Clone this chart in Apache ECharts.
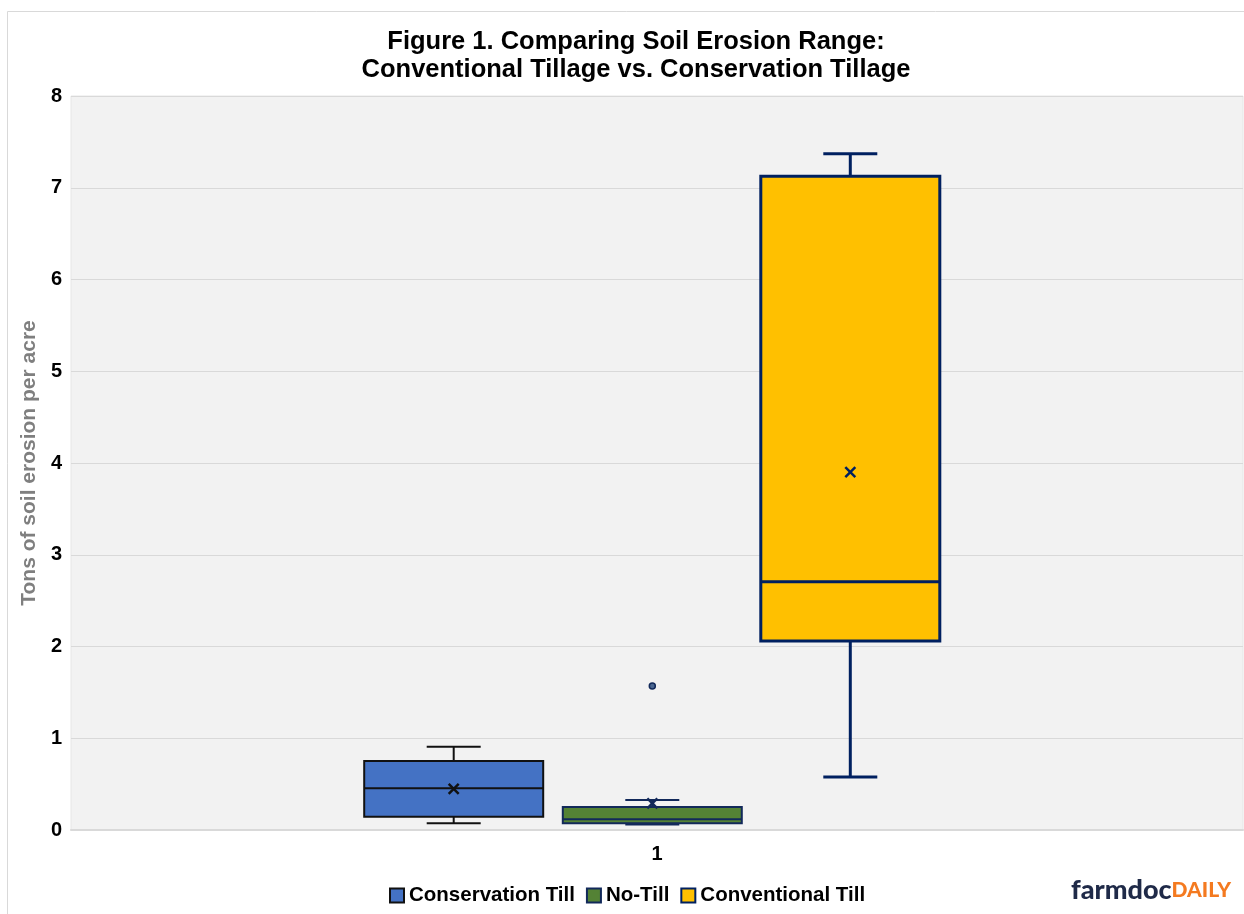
<!DOCTYPE html>
<html>
<head>
<meta charset="utf-8">
<script src="https://cdn.jsdelivr.net/npm/echarts@6/dist/echarts.min.js"></script>
<style>
html,body{margin:0;padding:0;background:#fff;}
#chart{width:1244px;height:914px;}
</style>
</head>
<body>
<div id="chart"></div>
<script>
// ---- data ----
const categories = ['1'];
const seriesNames = ['Conservation Till', 'No-Till', 'Conventional Till'];
// [min, Q1, median, Q3, max]
const conservationTill = [0.073, 0.145, 0.454, 0.752, 0.908];
const conservationMean = 0.447;
const noTill = [0.06, 0.073, 0.117, 0.25, 0.327];
const noTillMean = 0.29;
const noTillOutliers = [1.57];
const conventionalTill = [0.578, 2.06, 2.706, 7.125, 7.37];
const conventionalMean = 3.90;
const yMin = 0, yMax = 8, yInterval = 1;

// ---- layout / style ----
const BAND = 1172;
const OFFSETS = [-203.3 / BAND, -4.7 / BAND, 193.3 / BAND];
const BOX_W = 179 / BAND;
const CAP_W = 54 / BAND;
const STYLES = [
  { fill: '#4472C4', stroke: '#111111', lw: 2, mark: '#111111' },
  { fill: '#548235', stroke: '#12295a', lw: 2, mark: '#12295a' },
  { fill: '#FFC000', stroke: '#002060', lw: 3, mark: '#002060' }
];

function makeRender(idx) {
  const st = STYLES[idx];
  return function (params, api) {
    const band = api.size([1, 0])[0];
    const cx = api.coord([api.value(0), 0])[0] + OFFSETS[idx] * band;
    const w = BOX_W * band, cap = CAP_W * band;
    const Y = v => api.coord([0, v])[1];
    const mn = Y(api.value(1)), q1 = Y(api.value(2)), md = Y(api.value(3)),
          q3 = Y(api.value(4)), mx = Y(api.value(5)), mean = Y(api.value(6));
    const ls = { stroke: st.stroke, lineWidth: st.lw, fill: null };
    const s = 5;
    return {
      type: 'group',
      children: [
        { type: 'line', shape: { x1: cx, y1: q3, x2: cx, y2: mx }, style: ls },
        { type: 'line', shape: { x1: cx, y1: q1, x2: cx, y2: mn }, style: ls },
        { type: 'line', shape: { x1: cx - cap / 2, y1: mx, x2: cx + cap / 2, y2: mx }, style: ls },
        { type: 'line', shape: { x1: cx - cap / 2, y1: mn, x2: cx + cap / 2, y2: mn }, style: ls },
        { type: 'rect', shape: { x: cx - w / 2, y: q3, width: w, height: q1 - q3 },
          style: { fill: st.fill, stroke: st.stroke, lineWidth: st.lw } },
        { type: 'line', shape: { x1: cx - w / 2, y1: md, x2: cx + w / 2, y2: md }, style: ls },
        { type: 'line', shape: { x1: cx - s, y1: mean - s, x2: cx + s, y2: mean + s },
          style: { stroke: st.mark, lineWidth: 2.5 } },
        { type: 'line', shape: { x1: cx - s, y1: mean + s, x2: cx + s, y2: mean - s },
          style: { stroke: st.mark, lineWidth: 2.5 } }
      ]
    };
  };
}

function renderOutlier(params, api) {
  const band = api.size([1, 0])[0];
  const cx = api.coord([api.value(0), 0])[0] + OFFSETS[1] * band;
  const cy = api.coord([0, api.value(1)])[1];
  return { type: 'circle', shape: { cx: cx, cy: cy, r: 3 },
    style: { fill: '#4a6690', stroke: '#12295a', lineWidth: 1.5 } };
}

const boxData = [
  [[0].concat(conservationTill, [conservationMean])],
  [[0].concat(noTill, [noTillMean])],
  [[0].concat(conventionalTill, [conventionalMean])]
];

const FONT = 'Liberation Sans, Arial, sans-serif';
const chart = echarts.init(document.getElementById('chart'));
chart.setOption({
  animation: false,
  backgroundColor: '#ffffff',
  textStyle: { fontFamily: FONT },
  title: {
    text: 'Figure 1. Comparing Soil Erosion Range:\nConventional Tillage vs. Conservation Tillage',
    left: 631, top: 23, textAlign: 'center',
    textStyle: { fontSize: 25.5, fontWeight: 'bold', color: '#000', lineHeight: 28, fontFamily: FONT }
  },
  legend: {
    data: seriesNames,
    left: 384, top: 880,
    icon: 'rect', itemWidth: 14, itemHeight: 14, itemGap: 11,
    textStyle: { fontSize: 20.5, fontWeight: 'bold', color: '#000', fontFamily: FONT }
  },
  grid: {
    left: 71, right: 1, top: 96, bottom: 84,
    show: true, backgroundColor: '#f2f2f2', borderColor: '#e6e6e6', borderWidth: 1
  },
  xAxis: {
    type: 'category', data: categories,
    axisLine: { lineStyle: { color: '#d9d9d9', width: 2 } },
    axisTick: { show: false },
    axisLabel: { fontSize: 20, fontWeight: 'bold', color: '#000', margin: 14, fontFamily: FONT },
    splitLine: { show: false }
  },
  yAxis: {
    type: 'value', min: yMin, max: yMax, interval: yInterval,
    name: 'Tons of soil erosion per acre', nameLocation: 'middle', nameGap: 31,
    nameTextStyle: { fontSize: 21, fontWeight: 'bold', color: '#7f7f7f', fontFamily: FONT },
    axisLine: { show: false }, axisTick: { show: false },
    axisLabel: { fontSize: 20, fontWeight: 'bold', color: '#000', margin: 9, fontFamily: FONT },
    splitLine: { lineStyle: { color: '#d9d9d9', width: 1 } }
  },
  series: [
    { name: seriesNames[0], type: 'custom', renderItem: makeRender(0), data: boxData[0],
      encode: { x: 0, y: [1, 2, 3, 4, 5, 6] },
      itemStyle: { color: STYLES[0].fill, borderColor: STYLES[0].stroke, borderWidth: 1.5 } },
    { name: seriesNames[1], type: 'custom', renderItem: makeRender(1), data: boxData[1],
      encode: { x: 0, y: [1, 2, 3, 4, 5, 6] },
      itemStyle: { color: STYLES[1].fill, borderColor: STYLES[1].stroke, borderWidth: 1.5 } },
    { name: seriesNames[2], type: 'custom', renderItem: makeRender(2), data: boxData[2],
      encode: { x: 0, y: [1, 2, 3, 4, 5, 6] },
      itemStyle: { color: STYLES[2].fill, borderColor: STYLES[2].stroke, borderWidth: 1.5 } },
    { name: 'No-Till outliers', type: 'custom', renderItem: renderOutlier,
      data: noTillOutliers.map(v => [0, v]), encode: { x: 0, y: 1 } }
  ],
  graphic: [
    { type: 'rect', silent: true, z: -10,
      shape: { x: 7.5, y: 11.5, width: 1260, height: 930 },
      style: { fill: null, stroke: '#d9d9d9', lineWidth: 1 } },
    { type: 'text', left: 1071, top: 877,
      style: {
        text: '{a|farmdoc}{b|DAILY}',
        rich: {
          a: { fontSize: 27, fontWeight: 900, fill: '#1f2a48', fontFamily: 'Lato, Noto Sans, sans-serif' },
          b: { fontSize: 21, fontWeight: 900, fill: '#f47a20', fontFamily: 'Lato, Noto Sans, sans-serif' }
        }
      } }
  ]
});
</script>
</body>
</html>
